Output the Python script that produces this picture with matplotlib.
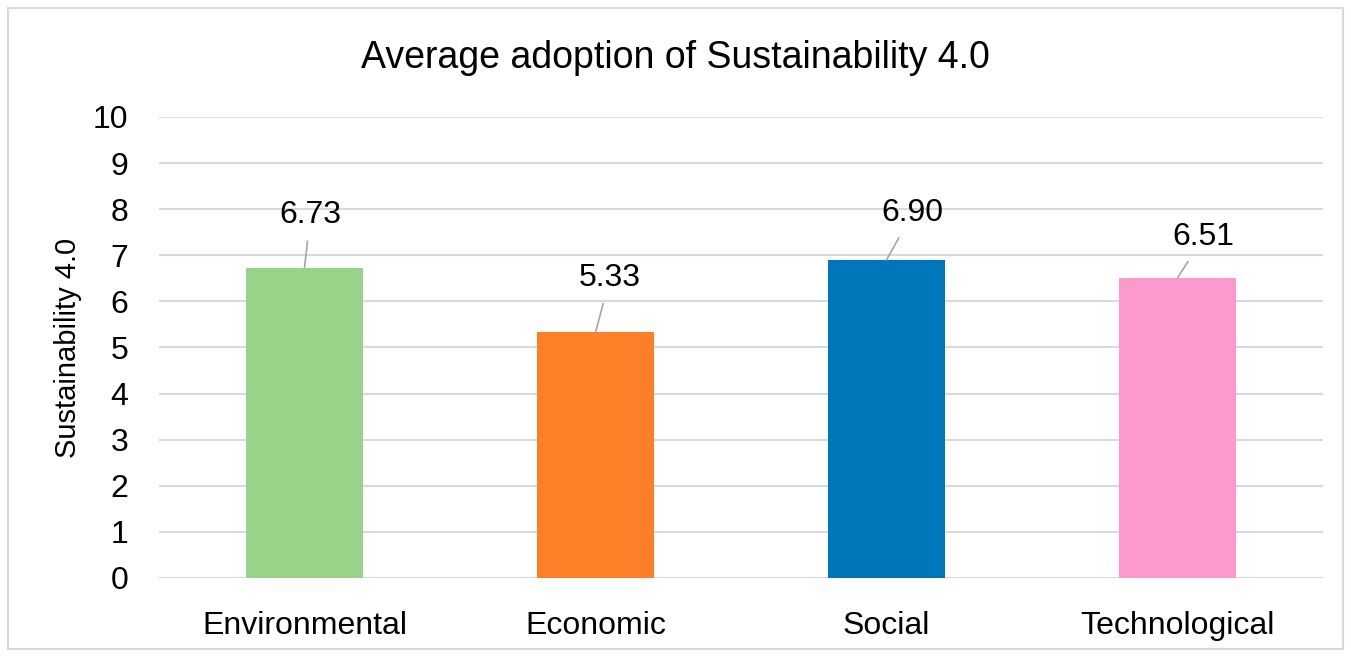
import matplotlib.pyplot as plt
from matplotlib.patches import Rectangle

plt.rcParams['font.family'] = ['Liberation Sans Narrow', 'Liberation Sans', 'DejaVu Sans']

categories = ["Environmental", "Economic", "Social", "Technological"]
values = [6.73, 5.33, 6.90, 6.51]
labels = ["6.73", "5.33", "6.90", "6.51"]
colors = ["#98d38a", "#fd7f27", "#0077bb", "#fd9acd"]
# where each data label sits (offset from bar top, in data units)
label_dx = [0.02, 0.05, 0.09, 0.09]
label_dy = [1.14, 1.18, 1.02, 0.89]

fig = plt.figure(figsize=(13.51, 6.56), dpi=100)
ax = fig.add_axes([0.1177, 0.119, 0.8616, 0.7027])

x = range(len(categories))
ax.bar(x, values, width=0.4, color=colors, zorder=3)

for i, v in enumerate(values):
    ax.annotate(labels[i], xy=(i, v), xytext=(i + label_dx[i], v + label_dy[i]),
                ha='center', va='center', fontsize=23,
                arrowprops=dict(arrowstyle='-', color='#a6a6a6', lw=1.2,
                                shrinkA=6, shrinkB=0))

ax.set_xlim(-0.5, 3.5)
ax.set_ylim(0, 10)
ax.set_yticks(range(0, 11))
ax.set_xticks(list(x))
ax.set_xticklabels(categories, fontsize=23)
ax.tick_params(axis='y', labelsize=23, length=0, pad=22)
ax.tick_params(axis='x', length=0, pad=24)
ax.grid(axis='y', color='#d9d9d9', lw=1.5, zorder=0)
for s in ax.spines.values():
    s.set_visible(False)
ax.set_ylabel("Sustainability 4.0", fontsize=21, labelpad=8)

fig.text(0.5, 0.912, "Average adoption of Sustainability 4.0", ha='center', va='center', fontsize=27)

fig.patches.append(Rectangle((0.006, 0.01), 0.988, 0.978, transform=fig.transFigure,
                             fill=False, edgecolor='#d9d9d9', lw=1.5))

fig.savefig("out.png", dpi=100)
